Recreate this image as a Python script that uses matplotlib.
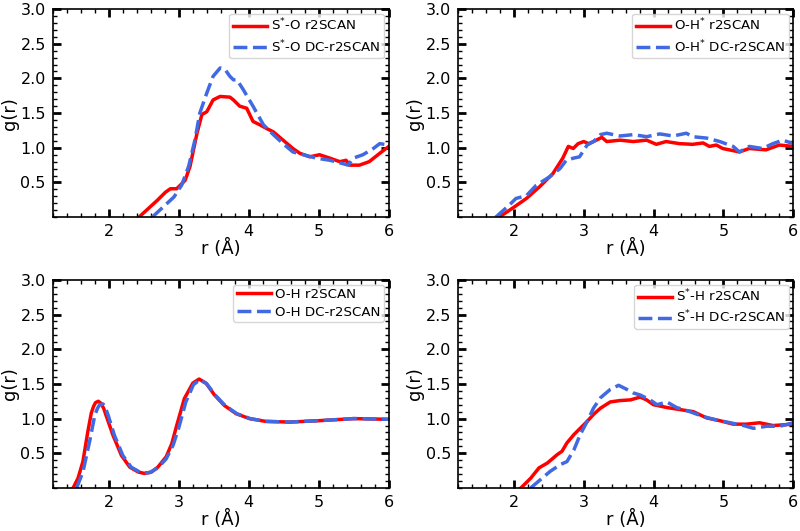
import numpy as np
import matplotlib
matplotlib.use("Agg")
import matplotlib.pyplot as plt
from matplotlib.ticker import MultipleLocator

# S*-O
so_r_x = [2.43, 2.69, 2.81, 2.88, 2.97, 3.04, 3.09, 3.16, 3.26, 3.33, 3.40, 3.49, 3.59, 3.73, 3.78, 3.87, 3.97,
          4.06, 4.16, 4.25, 4.35, 4.49, 4.63, 4.73, 4.87, 5.01, 5.16, 5.30, 5.39, 5.44, 5.58, 5.72, 5.87, 6.0]
so_r_y = [0.0, 0.24, 0.36, 0.41, 0.41, 0.48, 0.53, 0.73, 1.21, 1.48, 1.52, 1.69, 1.74, 1.73, 1.69, 1.60, 1.57,
          1.38, 1.33, 1.28, 1.23, 1.11, 0.99, 0.92, 0.87, 0.90, 0.85, 0.80, 0.82, 0.75, 0.75, 0.80, 0.92, 1.02]
so_d_x = [2.62, 2.78, 2.93, 3.04, 3.14, 3.23, 3.30, 3.40, 3.49, 3.59, 3.66, 3.73, 3.78, 3.83, 3.92, 4.06, 4.21,
          4.35, 4.49, 4.63, 4.78, 4.97, 5.16, 5.35, 5.42, 5.49, 5.63, 5.78, 5.87, 6.0]
so_d_y = [0.0, 0.15, 0.29, 0.46, 0.73, 1.11, 1.50, 1.79, 2.03, 2.15, 2.13, 2.03, 1.98, 1.98, 1.84, 1.60, 1.33,
          1.19, 1.06, 0.94, 0.90, 0.85, 0.82, 0.77, 0.75, 0.85, 0.90, 0.99, 1.06, 1.04]

# O-H*
oh_s_r_x = [1.79, 2.01, 2.18, 2.37, 2.56, 2.70, 2.78, 2.85, 2.92, 3.00, 3.07, 3.14, 3.26, 3.33, 3.52, 3.71, 3.90,
            4.04, 4.18, 4.37, 4.56, 4.71, 4.80, 4.90, 4.99, 5.23, 5.37, 5.61, 5.80, 6.0]
oh_s_r_y = [0.0, 0.15, 0.27, 0.44, 0.63, 0.85, 1.02, 0.99, 1.06, 1.09, 1.06, 1.09, 1.15, 1.09, 1.11, 1.09, 1.11,
            1.05, 1.09, 1.06, 1.05, 1.07, 1.02, 1.04, 0.99, 0.94, 0.99, 0.97, 1.04, 1.02]
oh_s_d_x = [1.74, 1.93, 2.03, 2.18, 2.32, 2.51, 2.66, 2.75, 2.85, 2.94, 3.05, 3.14, 3.24, 3.33, 3.52, 3.71, 3.90,
            4.09, 4.28, 4.47, 4.56, 4.76, 4.95, 5.14, 5.23, 5.37, 5.56, 5.71, 5.85, 6.0]
oh_s_d_y = [0.0, 0.17, 0.27, 0.31, 0.46, 0.58, 0.70, 0.82, 0.85, 0.87, 1.04, 1.09, 1.19, 1.21, 1.17, 1.19, 1.16,
            1.20, 1.17, 1.21, 1.16, 1.14, 1.09, 1.02, 0.94, 1.02, 0.99, 1.06, 1.11, 1.06]

# O-H
oh_r_x = [1.49, 1.56, 1.63, 1.70, 1.75, 1.78, 1.81, 1.85, 1.89, 1.93, 1.96, 2.06, 2.18, 2.30, 2.42, 2.51, 2.61,
          2.70, 2.82, 2.90, 2.97, 3.08, 3.20, 3.29, 3.39, 3.51, 3.65, 3.82, 4.01, 4.24, 4.58, 5.0, 5.5, 6.0]
oh_r_y = [0.0, 0.14, 0.38, 0.81, 1.08, 1.17, 1.23, 1.25, 1.22, 1.14, 1.05, 0.76, 0.47, 0.30, 0.23, 0.21, 0.23,
          0.30, 0.45, 0.64, 0.90, 1.29, 1.51, 1.57, 1.51, 1.34, 1.19, 1.07, 1.00, 0.96, 0.95, 0.97, 1.00, 0.99]
oh_d_x = [1.54, 1.63, 1.73, 1.80, 1.84, 1.87, 1.92, 1.95, 1.99, 2.08, 2.20, 2.32, 2.46, 2.58, 2.70, 2.82, 2.92,
          3.00, 3.10, 3.21, 3.30, 3.40, 3.52, 3.66, 3.83, 4.02, 4.24, 4.58, 5.0, 5.5, 6.0]
oh_d_y = [0.0, 0.23, 0.69, 1.05, 1.15, 1.20, 1.21, 1.16, 1.05, 0.76, 0.47, 0.30, 0.22, 0.22, 0.29, 0.42, 0.62,
          0.87, 1.24, 1.49, 1.56, 1.50, 1.34, 1.19, 1.07, 1.00, 0.96, 0.95, 0.97, 1.00, 0.99]

# S*-H
sh_r_x = [2.10, 2.24, 2.36, 2.48, 2.62, 2.69, 2.76, 2.86, 2.95, 3.05, 3.14, 3.24, 3.38, 3.52, 3.67, 3.81, 3.90,
          4.00, 4.19, 4.38, 4.57, 4.76, 4.95, 5.14, 5.33, 5.52, 5.71, 6.0]
sh_r_y = [0.0, 0.14, 0.29, 0.36, 0.48, 0.53, 0.65, 0.77, 0.86, 0.96, 1.06, 1.15, 1.24, 1.26, 1.27, 1.31, 1.27,
          1.20, 1.16, 1.13, 1.10, 1.01, 0.97, 0.92, 0.92, 0.94, 0.90, 0.92]
sh_d_x = [2.24, 2.38, 2.52, 2.67, 2.76, 2.86, 2.95, 3.05, 3.14, 3.24, 3.38, 3.50, 3.62, 3.71, 3.81, 3.95, 4.05,
          4.19, 4.33, 4.52, 4.71, 4.90, 5.10, 5.29, 5.43, 5.62, 5.81, 6.0]
sh_d_y = [0.0, 0.12, 0.24, 0.34, 0.38, 0.55, 0.77, 0.96, 1.15, 1.30, 1.42, 1.48, 1.42, 1.37, 1.34, 1.27, 1.20,
          1.24, 1.16, 1.10, 1.03, 0.98, 0.94, 0.90, 0.86, 0.89, 0.89, 0.94]

panels = [
    (so_r_x, so_r_y, so_d_x, so_d_y, r"S$^{*}$-O"),
    (oh_s_r_x, oh_s_r_y, oh_s_d_x, oh_s_d_y, r"O-H$^{*}$"),
    (oh_r_x, oh_r_y, oh_d_x, oh_d_y, "O-H"),
    (sh_r_x, sh_r_y, sh_d_x, sh_d_y, r"S$^{*}$-H"),
]

# axes boxes in figure fraction
boxes = [
    [0.066, 0.591, 0.420, 0.392],
    [0.5725, 0.591, 0.419, 0.392],
    [0.066, 0.081, 0.420, 0.392],
    [0.5725, 0.081, 0.419, 0.392],
]

fig = plt.figure(figsize=(8, 5.31), dpi=100)

for (rx, ry, dx, dy, name), box in zip(panels, boxes):
    ax = fig.add_axes(box)
    ax.plot(rx, ry, color="red", lw=2.5, label=name + " r2SCAN")
    ax.plot(dx, dy, color="royalblue", lw=2.5, ls=(0, (4, 1.6)), label=name + " DC-r2SCAN")
    ax.set_xlim(1.2, 6)
    ax.set_ylim(0, 3)
    ax.set_yticks([0.5, 1.0, 1.5, 2.0, 2.5, 3.0])
    ax.xaxis.set_major_locator(MultipleLocator(1))
    ax.xaxis.set_minor_locator(MultipleLocator(0.2))
    ax.yaxis.set_minor_locator(MultipleLocator(0.1))
    ax.tick_params(which="both", direction="in", top=True, right=True, labelsize=11.5)
    ax.tick_params(which="major", length=6, width=2, pad=5)
    ax.tick_params(which="minor", length=3, width=1)
    ax.set_xticks([2, 3, 4, 5, 6])
    ax.set_xlabel("r (Å)", fontsize=13, labelpad=0)
    ax.set_ylabel("g(r)", fontsize=13, labelpad=1)
    for s in ax.spines.values():
        s.set_linewidth(1.2)
    ax.legend(loc="upper right", fontsize=9.6, handlelength=2.6, handletextpad=0.3,
              labelspacing=0.35, borderpad=0.25, borderaxespad=0.35)

fig.savefig("out.png", dpi=100)
